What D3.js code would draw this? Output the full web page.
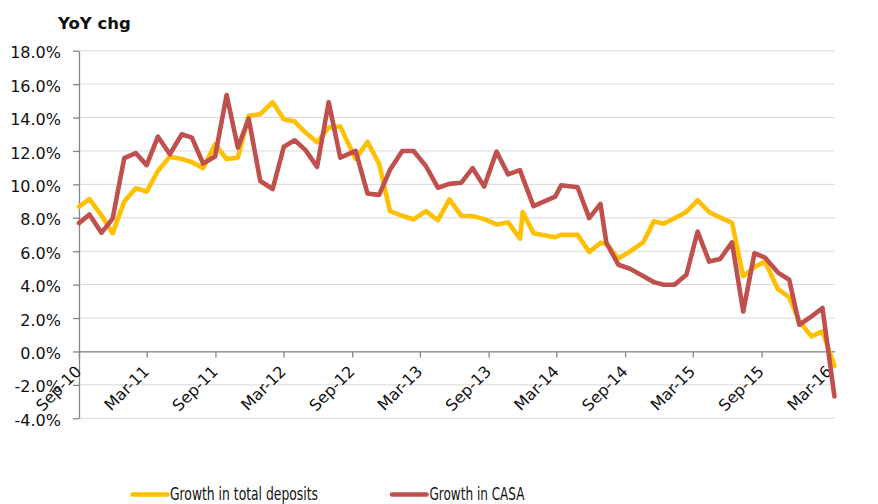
<!DOCTYPE html>
<html>
<head>
<meta charset="utf-8">
<script src="https://cdn.jsdelivr.net/npm/d3@7/dist/d3.min.js"></script>
<style>
  html, body { margin: 0; padding: 0; background: #fff; }
  svg { display: block; }
</style>
</head>
<body>
<svg id="chart" width="878" height="504"></svg>
<script>
// ---- data ----
const dates = [
  "2010-09-01","2010-09-29","2010-10-31","2010-11-30","2010-12-31","2011-01-31","2011-03-01","2011-03-31",
  "2011-05-02","2011-06-03","2011-06-30","2011-07-30","2011-08-31","2011-10-01","2011-10-31","2011-11-29",
  "2011-12-30","2012-02-01","2012-03-02","2012-03-31","2012-04-29","2012-05-30","2012-06-30","2012-07-31",
  "2012-09-10","2012-10-12","2012-11-12","2012-12-11","2013-01-13","2013-02-12","2013-03-17","2013-04-18",
  "2013-05-19","2013-06-20","2013-07-20","2013-08-20","2013-09-22","2013-10-23","2013-11-24","2013-12-01",
  "2013-12-30","2014-02-26","2014-03-14","2014-04-27","2014-05-28","2014-06-27","2014-07-13","2014-08-14",
  "2014-09-14","2014-10-20","2014-11-17","2014-12-13","2015-01-11","2015-02-12","2015-03-14","2015-04-14",
  "2015-05-13","2015-06-14","2015-07-14","2015-08-13","2015-09-10","2015-10-15","2015-11-14","2015-12-11",
  "2016-01-13","2016-02-11","2016-03-14"
];
const totalDeposits = [
  8.67, 9.12, 8.15, 7.08, 8.97, 9.77, 9.57, 10.8,
  11.66, 11.52, 11.33, 10.97, 12.4, 11.52, 11.6, 14.11,
  14.2, 14.92, 13.9, 13.76, 13.1, 12.52, 13.4, 13.46,
  11.52, 12.54, 11.22, 8.4, 8.12, 7.9, 8.4, 7.85,
  9.1, 8.12, 8.1, 7.92, 7.6, 7.72, 6.75, 8.35,
  7.08, 6.84, 6.98, 6.98, 5.95, 6.5, 6.45, 5.56,
  5.98, 6.55, 7.8, 7.64, 7.97, 8.35, 9.05, 8.33,
  8.03, 7.7, 4.5, 5.05, 5.38, 3.73, 3.25, 1.8,
  0.9, 1.2, -0.86
];
const casa = [
  7.68, 8.2, 7.1, 7.95, 11.57, 11.87, 11.15, 12.86,
  11.8, 13.0, 12.8, 11.25, 11.67, 15.35, 12.2, 13.93,
  10.2, 9.72, 12.25, 12.64, 12.05, 11.05, 14.92, 11.6,
  12.0, 9.45, 9.37, 10.87, 12.0, 12.0, 11.1, 9.8,
  10.03, 10.1, 10.97, 9.87, 11.96, 10.6, 10.85, 10.4,
  8.7, 9.27, 9.95, 9.83, 7.98, 8.83, 6.5, 5.19,
  4.95, 4.5, 4.15, 3.99, 3.99, 4.59, 7.18, 5.38,
  5.53, 6.53, 2.39, 5.88, 5.62, 4.72, 4.29, 1.6,
  2.1, 2.6, -2.69
];
const yTicks = [-4, -2, 0, 2, 4, 6, 8, 10, 12, 14, 16, 18];
const xTickLabels = ["Sep-10","Mar-11","Sep-11","Mar-12","Sep-12","Mar-13","Sep-13","Mar-14","Sep-14","Mar-15","Sep-15","Mar-16"];
const seriesNames = ["Growth in total deposits", "Growth in CASA"];
const seriesColors = ["#FFC000", "#C0504D"];

// ---- layout ----
const svg = d3.select("#chart");
const plotLeft = 79, plotRight = 834.8, plotTop = 50.7, plotBottom = 418.3;
const parseDate = d3.timeParse("%Y-%m-%d");
const parseMonth = d3.timeParse("%b-%y");
const dateObjs = dates.map(parseDate);

const x = d3.scaleTime()
  .domain([parseDate("2010-09-01"), parseDate("2016-03-15")])
  .range([plotLeft, plotRight]);
const y = d3.scaleLinear().domain([-4, 18]).range([plotBottom, plotTop]);

const fontMain = "'DejaVu Sans', Verdana, sans-serif";

// gridlines
svg.append("g")
  .selectAll("line")
  .data(yTicks)
  .join("line")
  .attr("x1", plotLeft).attr("x2", plotRight)
  .attr("y1", d => y(d)).attr("y2", d => y(d))
  .attr("stroke", "#D9D9D9").attr("stroke-width", 1);

// y axis
const yAxis = d3.axisLeft(y)
  .tickValues(yTicks)
  .tickSize(6)
  .tickSizeOuter(0)
  .tickPadding(12)
  .tickFormat(d => d.toFixed(1) + "%");
const gy = svg.append("g").attr("transform", `translate(${plotLeft},0)`).call(yAxis);
gy.select(".domain").attr("stroke", "#868686").attr("stroke-width", 1.3);
gy.selectAll(".tick line").attr("stroke", "#868686").attr("stroke-width", 1.3);
gy.selectAll(".tick text")
  .attr("font-family", fontMain).attr("font-size", 16).attr("fill", "#111")
  .attr("dy", "0.44em");

// x axis at 0%
const xTickDates = xTickLabels.map(parseMonth);
const xAxis = d3.axisBottom(x)
  .tickValues(xTickDates)
  .tickSize(6)
  .tickSizeOuter(0)
  .tickFormat(d3.timeFormat("%b-%y"));
const gx = svg.append("g").attr("transform", `translate(0,${y(0)})`).call(xAxis);
gx.select(".domain").attr("stroke", "#868686").attr("stroke-width", 1.3);
gx.selectAll(".tick line").attr("stroke", "#868686").attr("stroke-width", 1.3);
gx.selectAll(".tick text")
  .attr("font-family", fontMain).attr("font-size", 16).attr("fill", "#111")
  .attr("text-anchor", "end")
  .attr("dy", null)
  .attr("y", 0)
  .attr("transform", "translate(3,21) rotate(-45)");

// lines
const seriesData = [totalDeposits, casa];
const line = d3.line()
  .x((d, i) => x(dateObjs[i]))
  .y(d => y(d));
svg.append("g")
  .selectAll("path")
  .data(seriesData)
  .join("path")
  .attr("d", d => line(d))
  .attr("fill", "none")
  .attr("stroke", (d, i) => seriesColors[i])
  .attr("stroke-width", 4.6)
  .attr("stroke-linejoin", "round")
  .attr("stroke-linecap", "round");

// title
svg.append("text")
  .attr("x", 58).attr("y", 29)
  .attr("font-family", fontMain).attr("font-size", 16.5).attr("font-weight", "bold")
  .attr("fill", "#111")
  .text("YoY chg");

// legend
const legendItems = [
  { sx: 132.5, ex: 167.5, tx: 170, tw: 148 },
  { sx: 392, ex: 426.5, tx: 429.5, tw: 95 }
];
const lg = svg.append("g");
legendItems.forEach((it, i) => {
  lg.append("line")
    .attr("x1", it.sx).attr("x2", it.ex)
    .attr("y1", 494.5).attr("y2", 494.5)
    .attr("stroke", seriesColors[i]).attr("stroke-width", 4.6)
    .attr("stroke-linecap", "round");
  lg.append("text")
    .attr("x", it.tx).attr("y", 499.5)
    .attr("font-family", "'DejaVu Sans Condensed', 'Liberation Sans Narrow', 'DejaVu Sans', sans-serif")
    .attr("font-size", 17)
    .attr("fill", "#111")
    .attr("textLength", it.tw)
    .attr("lengthAdjust", "spacingAndGlyphs")
    .text(seriesNames[i]);
});
</script>
</body>
</html>
